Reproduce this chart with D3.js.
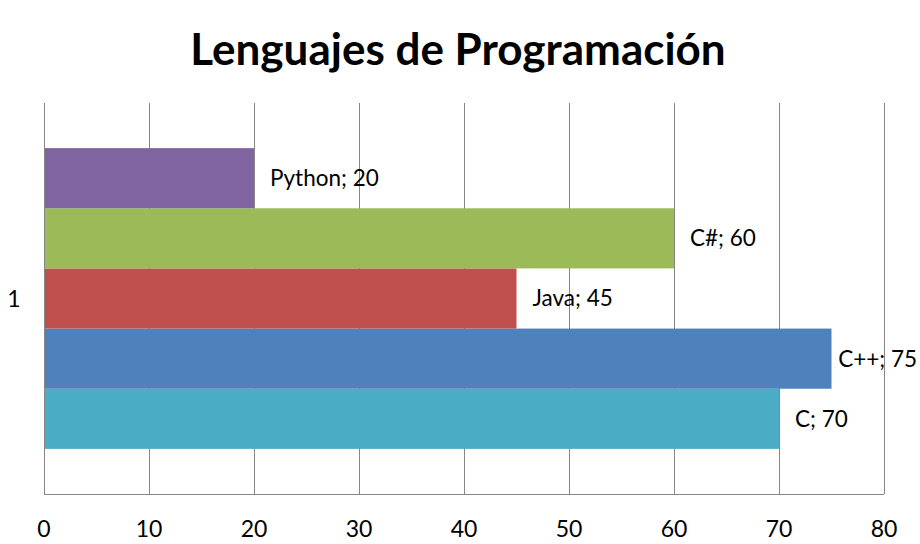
<!DOCTYPE html>
<html><head><meta charset="utf-8">
<script src="https://cdn.jsdelivr.net/npm/d3@7"></script>
<style>body{margin:0;background:#fff}</style>
</head><body>
<svg id="chart" width="920" height="544"></svg>
<script>
const title = "Lenguajes de Programación";
const categories = ["1"];
const seriesNames = ["C", "C++", "Java", "C#", "Python"];
const seriesValues = [70, 75, 45, 60, 20];
const seriesColors = ["#4BACC6", "#4F81BD", "#C0504D", "#9BBB59", "#8064A2"];
const xTicks = [0, 10, 20, 30, 40, 50, 60, 70, 80];

const svg = d3.select("#chart");
const font = "Lato, 'Open Sans', sans-serif";
const m = {left: 44, right: 36, top: 103, bottom: 50};
const W = 920, H = 544;
const x = d3.scaleLinear().domain([0, 80]).range([m.left, W - m.right]);
const y = d3.scaleBand().domain(categories).range([m.top, H - m.bottom]).paddingInner(0).paddingOuter(0.15);
const ys = d3.scaleBand().domain(seriesNames.slice().reverse()).range([0, y.bandwidth()]).padding(0);

// gridlines
svg.append("g").selectAll("line").data(xTicks.slice(1)).join("line")
  .attr("x1", d => x(d)).attr("x2", d => x(d))
  .attr("y1", m.top).attr("y2", H - m.bottom)
  .attr("stroke", "#868686").attr("stroke-width", 1).attr("shape-rendering", "crispEdges");

// bars
const data = seriesNames.map((n, i) => ({name: n, value: seriesValues[i], color: seriesColors[i], cat: categories[0]}));
svg.append("g").selectAll("rect").data(data).join("rect")
  .attr("x", x(0)).attr("y", d => y(d.cat) + ys(d.name))
  .attr("width", d => x(d.value) - x(0)).attr("height", ys.bandwidth())
  .attr("fill", d => d.color);

// data labels
svg.append("g").selectAll("text").data(data).join("text")
  .attr("y", d => y(d.cat) + ys(d.name) + ys.bandwidth() / 2)
  .attr("dy", "0.35em").attr("font-family", font).attr("font-size", 22.5).attr("fill", "#000")
  .text(d => `${d.name}; ${d.value}`)
  .each(function(d) {
    const w = this.getComputedTextLength();
    d3.select(this).attr("x", Math.min(x(d.value) + 16, W - w - 3));
  });

// axes lines
svg.append("line").attr("x1", x(0)).attr("x2", x(0)).attr("y1", m.top).attr("y2", H - m.bottom)
  .attr("stroke", "#868686").attr("shape-rendering", "crispEdges");
svg.append("line").attr("x1", x(0)).attr("x2", x(80)).attr("y1", H - m.bottom).attr("y2", H - m.bottom)
  .attr("stroke", "#868686").attr("shape-rendering", "crispEdges");

// x tick labels
svg.append("g").selectAll("text").data(xTicks).join("text")
  .attr("x", d => x(d)).attr("y", 537).attr("text-anchor", "middle")
  .attr("font-family", font).attr("font-size", 23).attr("fill", "#000").text(d => d);

// category label
svg.append("g").selectAll("text").data(categories).join("text")
  .attr("x", 14).attr("y", d => y(d) + y.bandwidth() / 2).attr("dy", "0.35em").attr("text-anchor", "middle")
  .attr("font-family", font).attr("font-size", 23).attr("fill", "#000").text(d => d);

// title
svg.append("text").attr("x", 458).attr("y", 65).attr("text-anchor", "middle")
  .attr("font-family", font).attr("font-weight", "bold").attr("font-size", 44).attr("fill", "#000").text(title);
</script>
</body></html>
